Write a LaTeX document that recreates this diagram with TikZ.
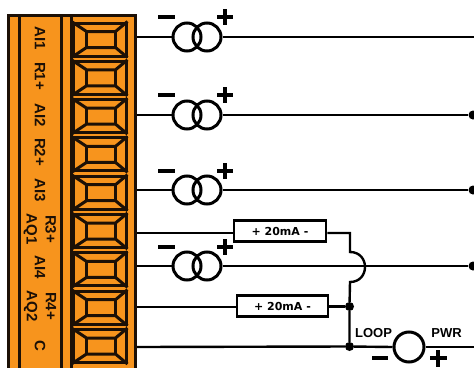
\documentclass[tikz,border=0pt]{standalone}
\usepackage{fontspec}
\setmainfont{Liberation Sans}
\newfontfamily\boxfont{DejaVu Sans}
\definecolor{termorange}{HTML}{F7941D}
\definecolor{termdark}{HTML}{1C1006}
\tikzset{
  wire/.style={line width=2.4pt,black},
  termline/.style={line width=3pt,termdark},
  termbox/.style={draw=termdark,line width=3pt,inner sep=0pt,minimum width=53pt,minimum height=33pt},
  termlabel/.style={rotate=-90,font=\bfseries\fontsize{15}{19}\selectfont,text=termdark,align=center,inner sep=0pt},
  coil/.style={circle,draw=black,line width=3pt,minimum size=28pt,inner sep=0pt},
  sign/.style={line width=3.4pt,black},
  maBox/.style={draw=black,fill=white,line width=2.6pt,inner sep=0pt,minimum height=21pt,font=\boxfont\bfseries\fontsize{11}{13}\selectfont},
  junction/.style={circle,fill=black,inner sep=0pt,minimum size=9pt},
  smalllabel/.style={font=\bfseries\fontsize{13}{15}\selectfont,inner sep=0pt}
}
\newcommand{\termdetail}[1]{%
  \draw[termline] (#1.north west) -- ++(15,10) coordinate (#1a) -- ++(29,0) coordinate (#1b) -- (#1.north east);
  \draw[termline] (#1.south west) -- ++(15,-10) coordinate (#1c) -- ++(29,0) coordinate (#1d) -- (#1.south east);
  \draw[termline] (#1a) -- (#1c) (#1b) -- (#1d);
}
\newcommand{\plusminus}[2]{%
  \draw[sign] (158,#2) -- (175,#2);
  \draw[sign] (217,#2) -- (233,#2) (225,#2-8) -- (225,#2+8);
}
\begin{document}
\begin{tikzpicture}[x=1pt,y=-1pt]
\useasboundingbox (0,0) rectangle (474,367);
\clip (0,0) rectangle (474,367);
\fill[white] (0,0) rectangle (474,367);
% terminal block
\draw[termline,fill=termorange] (8.5,15.5) rectangle (135.5,380);
\draw[termline] (19,15) -- (19,380) (61,15) -- (61,380) (71,15) -- (71,380);
\foreach \n/\y in {1/39.5,2/77.8,3/116.1,4/154.4,5/231,6/269.4,7/307.7,8/346}{
  \node[termbox] (t\n) at (99.5,\y) {};
}
\node[termbox] (t9) at (99.5,192.7) {};
\foreach \n in {1,2,3,4,5,6,7,8,9}{\termdetail{t\n}}
% labels
\node[termlabel] (l1) at (40,38) {AI1};
\node[termlabel] (l2) at (40,76) {R1+};
\node[termlabel] (l3) at (40,115) {AI2};
\node[termlabel] (l4) at (40,152) {R2+};
\node[termlabel] (l5) at (40,190) {AI3};
\node[termlabel] (l6) at (40,229) {R3+\\AQ1};
\node[termlabel] (l7) at (40,267) {AI4};
\node[termlabel] (l8) at (40,306) {R4+\\AQ2};
\node[termlabel] (l9) at (40,346) {C};
% pins
\foreach \n/\y in {1/37,2/115,3/190,4/233,5/266,6/307,7/347}{
  \coordinate (p\n) at (137,\y);
}
% sources
\foreach \n/\pin/\y/\s in {a/p1/37/17,b/p2/115/95,c/p3/190/171,d/p5/266/247}{
  \node[coil] (\n1) at (187,\y) {};
  \node[coil] (\n2) at (207,\y) {};
  \draw[wire] (\pin) -- (\n1.west);
  \plusminus{\n}{\s}
}
\coordinate (r1) at (474,37);
\node[junction] (r2) at (473,115) {};
\node[junction] (r3) at (473,190) {};
\node[junction] (r4) at (473,266) {};
\draw[wire] (a2.east) -- (r1);
\draw[wire] (b2.east) -- (r2);
\draw[wire] (c2.east) -- (r3);
\draw[wire] (d2.east) -- (r4);
% current boxes
\node[maBox,minimum width=92pt] (m1) at (280,231) {+ 20mA -};
\node[maBox,minimum width=91pt] (m2) at (282.5,306) {+ 20mA -};
\node[junction] (j1) at (349.5,306.5) {};
\node[junction] (j2) at (349.5,346.5) {};
\node[coil,minimum size=30pt] (loop) at (409,347) {};
\coordinate (h1) at (350,233);
\coordinate (h2) at (350,252);
\coordinate (h3) at (350,282);
\coordinate (r5) at (474,347);
\draw[wire] (p4) -- (m1.west |- p4);
\draw[wire] (m1.east |- h1) -- (h1) -- (h2) .. controls (370,252) and (370,282) .. (h3) -- (j1) -- (j2);
\draw[wire] (p6) -- (m2.west |- p6);
\draw[wire] (m2.east |- j1) -- (j1);
\draw[wire] (p7) -- (j2) -- (loop.west);
\draw[wire] (loop.east) -- (r5);
% loop labels
\node[smalllabel] (lp) at (373.5,333) {LOOP};
\node[smalllabel] (pw) at (446.5,333) {PWR};
\draw[sign] (372,358) -- (388,358);
\draw[sign] (430,358) -- (447,358) (438,350) -- (438,367);
\end{tikzpicture}
\end{document}
